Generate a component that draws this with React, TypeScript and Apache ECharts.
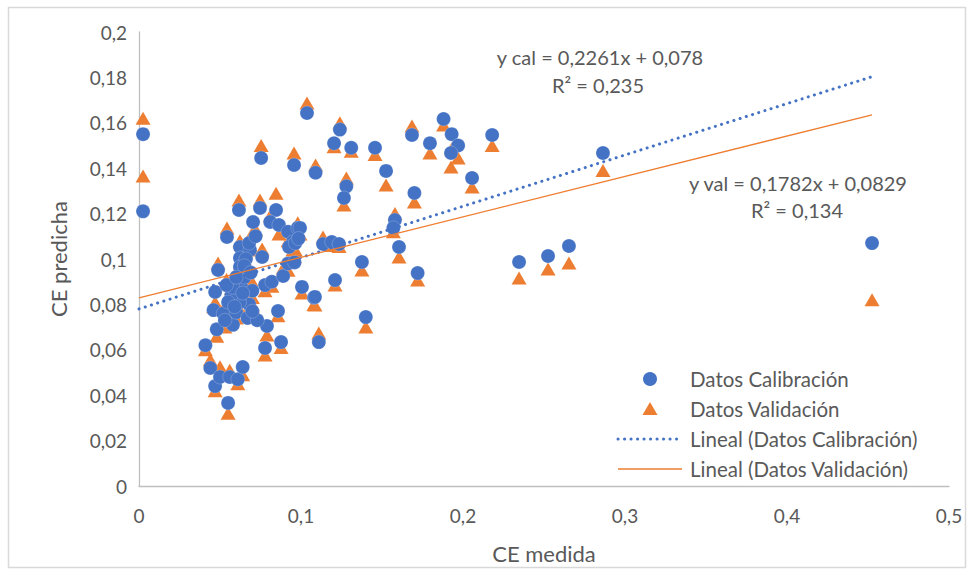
import React, { useEffect, useRef } from "react";
import * as echarts from "echarts";

// Datos de calibración: [CE medida, CE predicha]
const datosCalibracion: number[][] = [
  [0.0025, 0.155], [0.0025, 0.121], [0.041, 0.062], [0.044, 0.052], [0.047, 0.044],
  [0.055, 0.0366], [0.05, 0.048], [0.056, 0.048], [0.061, 0.047], [0.064, 0.0524],
  [0.047, 0.0855], [0.046, 0.0775], [0.048, 0.069], [0.058, 0.071], [0.052, 0.076],
  [0.06, 0.0765], [0.067, 0.074], [0.068, 0.08], [0.062, 0.081], [0.079, 0.0705],
  [0.0778, 0.0608], [0.0877, 0.0634], [0.0858, 0.0771], [0.1006, 0.0877], [0.108, 0.083],
  [0.0778, 0.0885], [0.082, 0.09], [0.089, 0.0925], [0.0617, 0.1216], [0.0747, 0.1225],
  [0.0846, 0.1216], [0.0704, 0.1163], [0.081, 0.1163], [0.0864, 0.115], [0.092, 0.112],
  [0.098, 0.1137], [0.095, 0.1075], [0.0543, 0.1097], [0.0623, 0.1053], [0.0685, 0.104],
  [0.076, 0.1009], [0.0623, 0.1004], [0.0488, 0.0952], [0.0623, 0.0965], [0.0926, 0.1053],
  [0.0754, 0.1445], [0.0957, 0.1414], [0.109, 0.138], [0.1037, 0.1643], [0.124, 0.157],
  [0.1204, 0.151], [0.131, 0.149], [0.1457, 0.149], [0.1685, 0.1546], [0.1796, 0.151],
  [0.188, 0.1617], [0.193, 0.155], [0.197, 0.15], [0.1926, 0.1467], [0.218, 0.1546],
  [0.2056, 0.1357], [0.128, 0.132], [0.1265, 0.1269], [0.1525, 0.1388], [0.17, 0.1291],
  [0.158, 0.1172], [0.157, 0.1137], [0.2864, 0.1467], [0.1136, 0.1066], [0.119, 0.1075],
  [0.1235, 0.1066], [0.0994, 0.1137], [0.1376, 0.0987], [0.1605, 0.1053], [0.121, 0.0907],
  [0.172, 0.0938], [0.1086, 0.0833], [0.2346, 0.0987], [0.2525, 0.1013], [0.2654, 0.1057],
  [0.4525, 0.107], [0.14, 0.0744], [0.111, 0.0634], [0.063, 0.088], [0.057, 0.084],
  [0.065, 0.092], [0.07, 0.086], [0.092, 0.098], [0.096, 0.0985], [0.058, 0.0875],
  [0.055, 0.081], [0.066, 0.1], [0.054, 0.0885], [0.073, 0.073], [0.0965, 0.107],
  [0.0985, 0.109], [0.06, 0.092], [0.065, 0.097], [0.068, 0.107], [0.072, 0.11],
  [0.059, 0.079], [0.064, 0.085], [0.07, 0.077], [0.053, 0.073], [0.069, 0.094],
];

// Datos de validación: [CE medida, CE predicha]
const datosValidacion: number[][] = [
  [0.0025, 0.162], [0.0025, 0.1366], [0.041, 0.06], [0.044, 0.0556], [0.047, 0.042],
  [0.055, 0.032], [0.05, 0.0525], [0.056, 0.051], [0.061, 0.045], [0.064, 0.049],
  [0.047, 0.081], [0.046, 0.079], [0.048, 0.066], [0.058, 0.074], [0.052, 0.078],
  [0.06, 0.074], [0.067, 0.077], [0.068, 0.083], [0.062, 0.078], [0.079, 0.0665],
  [0.0778, 0.0577], [0.0877, 0.061], [0.0858, 0.075], [0.1006, 0.085], [0.108, 0.08],
  [0.0778, 0.086], [0.082, 0.088], [0.089, 0.096], [0.0617, 0.126], [0.0747, 0.126],
  [0.0846, 0.129], [0.0704, 0.112], [0.081, 0.119], [0.0864, 0.111], [0.092, 0.108],
  [0.098, 0.116], [0.095, 0.104], [0.0543, 0.1137], [0.0623, 0.108], [0.0685, 0.106],
  [0.076, 0.1044], [0.0623, 0.097], [0.0488, 0.0982], [0.0623, 0.094], [0.0926, 0.108],
  [0.0754, 0.15], [0.0957, 0.1467], [0.109, 0.1414], [0.1037, 0.1687], [0.124, 0.16],
  [0.1204, 0.1495], [0.131, 0.1475], [0.1457, 0.146], [0.1685, 0.1586], [0.1796, 0.1467],
  [0.188, 0.159], [0.193, 0.1485], [0.197, 0.1445], [0.1926, 0.1405], [0.218, 0.15],
  [0.2056, 0.1317], [0.128, 0.1357], [0.1265, 0.1238], [0.1525, 0.1326], [0.17, 0.1251],
  [0.158, 0.12], [0.157, 0.112], [0.2864, 0.139], [0.1136, 0.1097], [0.119, 0.106],
  [0.1235, 0.1055], [0.0994, 0.111], [0.1376, 0.0952], [0.1605, 0.1009], [0.121, 0.0886],
  [0.172, 0.0907], [0.1086, 0.0797], [0.2346, 0.0916], [0.2525, 0.0956], [0.2654, 0.0982],
  [0.4525, 0.082], [0.14, 0.07], [0.111, 0.0674], [0.063, 0.085], [0.057, 0.087],
  [0.065, 0.089], [0.07, 0.083], [0.092, 0.095], [0.096, 0.101], [0.058, 0.084],
  [0.055, 0.079], [0.066, 0.103], [0.054, 0.091], [0.073, 0.075], [0.0965, 0.104],
  [0.0985, 0.111], [0.06, 0.089], [0.065, 0.1], [0.068, 0.104], [0.072, 0.113],
  [0.059, 0.082], [0.064, 0.082], [0.07, 0.08], [0.053, 0.07], [0.069, 0.091],
];

// Líneas de tendencia: pendiente, intercepto, R²
const tendenciaCal = { pendiente: 0.2261, intercepto: 0.078, r2: "0,235" };
const tendenciaVal = { pendiente: 0.1782, intercepto: 0.0829, r2: "0,134" };
const rangoTendencia = [0, 0.4525];

const yTicks = { min: 0, max: 0.2, interval: 0.02 };
const xTicks = { min: 0, max: 0.5, interval: 0.1 };

const nombresLeyenda = [
  "Datos Calibración",
  "Datos Validación",
  "Lineal (Datos Calibración)",
  "Lineal (Datos Validación)",
];

const AZUL = "#4472C4";
const NARANJA = "#ED7D31";
const GRIS_TEXTO = "#595959";
const FUENTE = "Lato, 'Open Sans', sans-serif";

const coma = (v: number) => String(Math.round(v * 10000) / 10000).replace(".", ",");

const lineaTendencia = (t: { pendiente: number; intercepto: number }) =>
  rangoTendencia.map((x) => [x, t.pendiente * x + t.intercepto]);

// Leyenda dibujada a mano: marcador + texto por fila
function leyenda(): any[] {
  const x0 = 618;
  const x1 = 682;
  const cx = 650;
  const y0 = 379;
  const paso = 30;
  const els: any[] = [];
  els.push({
    type: "circle",
    shape: { cx, cy: y0, r: 7 },
    style: { fill: AZUL },
    silent: true,
  });
  els.push({
    type: "polygon",
    shape: { points: [[cx, y0 + paso - 7], [cx + 7.5, y0 + paso + 6], [cx - 7.5, y0 + paso + 6]] },
    style: { fill: NARANJA },
    silent: true,
  });
  els.push({
    type: "line",
    shape: { x1: x0, y1: y0 + 2 * paso, x2: x1, y2: y0 + 2 * paso },
    style: { stroke: AZUL, lineWidth: 3, lineDash: [0.1, 6.4], lineCap: "round" },
    silent: true,
  });
  els.push({
    type: "line",
    shape: { x1: x0, y1: y0 + 3 * paso, x2: x1, y2: y0 + 3 * paso },
    style: { stroke: NARANJA, lineWidth: 1.3 },
    silent: true,
  });
  nombresLeyenda.forEach((n, i) => {
    els.push({
      type: "text",
      x: 690,
      y: y0 + i * paso,
      style: {
        text: n,
        fill: GRIS_TEXTO,
        font: `20.5px ${FUENTE}`,
        verticalAlign: "middle",
      },
      silent: true,
    });
  });
  return els;
}

function textoCentrado(txt: string, x: number, y: number) {
  return {
    type: "text",
    x,
    y,
    style: {
      text: txt,
      fill: GRIS_TEXTO,
      font: `20px ${FUENTE}`,
      align: "center",
      verticalAlign: "middle",
    },
    silent: true,
  };
}

export default function App() {
  const ref = useRef<HTMLDivElement>(null);

  useEffect(() => {
    if (!ref.current) return;
    const chart = echarts.init(ref.current, undefined, { renderer: "svg" });
    chart.setOption({
      animation: false,
      backgroundColor: "#ffffff",
      grid: { left: 139, right: 25, top: 32, bottom: 89, containLabel: false },
      xAxis: {
        type: "value",
        min: xTicks.min,
        max: xTicks.max,
        interval: xTicks.interval,
        name: "CE medida",
        nameLocation: "middle",
        nameGap: 56,
        nameTextStyle: { color: GRIS_TEXTO, fontSize: 22, fontFamily: FUENTE },
        axisLine: { show: true, lineStyle: { color: "#bfbfbf", width: 1.3 } },
        axisTick: { show: false },
        splitLine: { show: false },
        axisLabel: {
          color: GRIS_TEXTO,
          fontSize: 19,
          fontFamily: FUENTE,
          margin: 20,
          formatter: (v: number) => coma(v),
        },
      },
      yAxis: {
        type: "value",
        min: yTicks.min,
        max: yTicks.max,
        interval: yTicks.interval,
        name: "CE predicha",
        nameLocation: "middle",
        nameGap: 70,
        nameTextStyle: { color: GRIS_TEXTO, fontSize: 22, fontFamily: FUENTE },
        axisLine: { show: true, lineStyle: { color: "#bfbfbf", width: 1.3 } },
        axisTick: { show: false },
        splitLine: { show: false },
        axisLabel: {
          color: GRIS_TEXTO,
          fontSize: 19,
          fontFamily: FUENTE,
          margin: 12,
          formatter: (v: number) => coma(v),
        },
      },
      series: [
        {
          name: "Datos Validación",
          type: "scatter",
          data: datosValidacion,
          symbol: "triangle",
          symbolSize: [15, 13],
          itemStyle: { color: NARANJA, opacity: 1 },
          z: 2,
        },
        {
          name: "Datos Calibración",
          type: "scatter",
          data: datosCalibracion,
          symbol: "circle",
          symbolSize: 14,
          itemStyle: { color: AZUL, opacity: 1, borderColor: "rgba(255,255,255,0.35)", borderWidth: 0.6 },
          z: 3,
        },
        {
          name: "Lineal (Datos Calibración)",
          type: "line",
          data: lineaTendencia(tendenciaCal),
          symbol: "none",
          lineStyle: { color: AZUL, width: 3, type: [0.1, 6.4], cap: "round" },
          z: 4,
        },
        {
          name: "Lineal (Datos Validación)",
          type: "line",
          data: lineaTendencia(tendenciaVal),
          symbol: "none",
          lineStyle: { color: NARANJA, width: 1.3 },
          z: 4,
        },
      ],
      graphic: [
        {
          type: "rect",
          shape: { x: 8.5, y: 7.5, width: 957, height: 560 },
          style: { fill: "none", stroke: "#d9d9d9", lineWidth: 1.5 },
          silent: true,
        },
        textoCentrado(
          `y cal = ${coma(tendenciaCal.pendiente)}x + ${coma(tendenciaCal.intercepto)}`,
          600,
          57
        ),
        textoCentrado(`R² = ${tendenciaCal.r2}`, 598, 85),
        textoCentrado(
          `y val = ${coma(tendenciaVal.pendiente)}x + ${coma(tendenciaVal.intercepto)}`,
          798,
          183
        ),
        textoCentrado(`R² = ${tendenciaVal.r2}`, 797, 210),
        ...leyenda(),
      ],
    });
    return () => chart.dispose();
  }, []);

  return (
    <div
      ref={ref}
      style={{ position: "fixed", left: 0, top: 0, width: 974, height: 575 }}
    />
  );
}
